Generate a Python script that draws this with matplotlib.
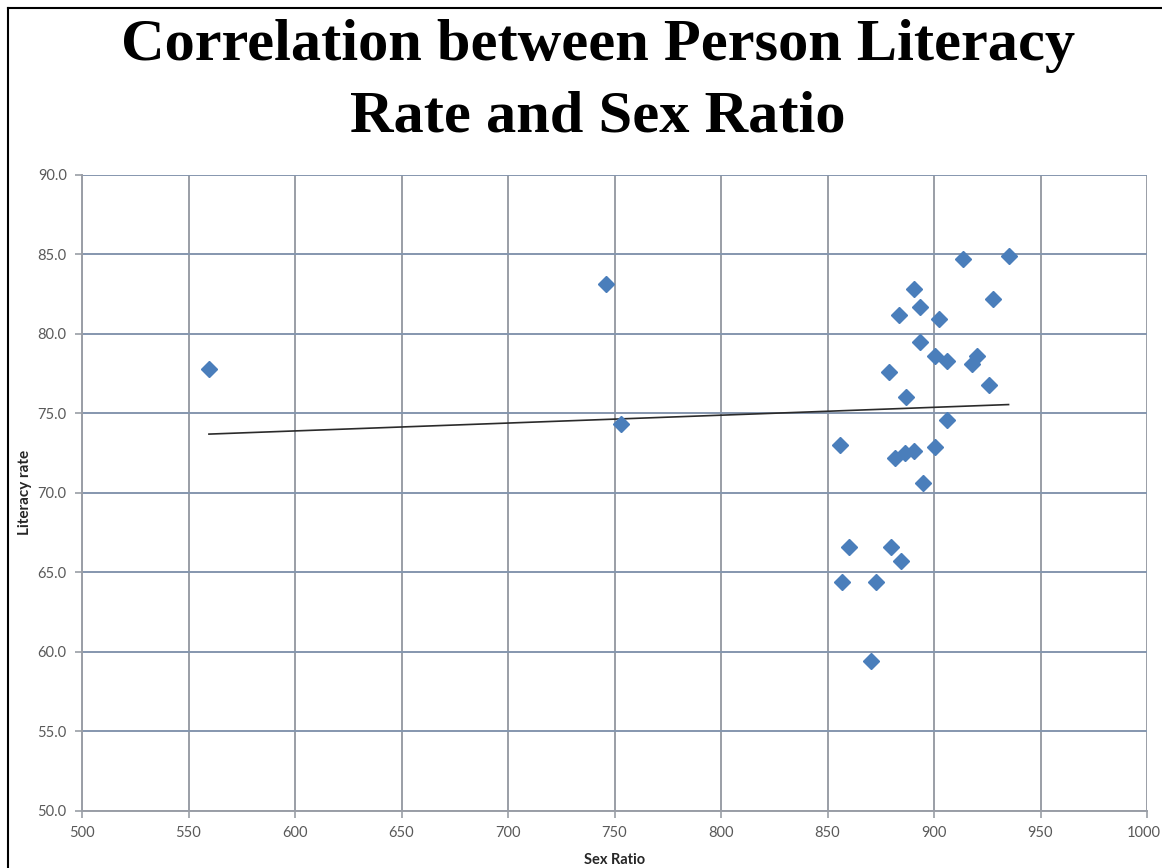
import numpy as np
import matplotlib
matplotlib.use("Agg")
import matplotlib.pyplot as plt
from matplotlib.lines import Line2D
from matplotlib.transforms import ScaledTranslation

# Data
sex_ratio = [559.6, 746.0, 753.0, 855.7, 913.8, 935.0, 890.8, 927.9, 893.6, 883.4,
             902.5, 893.6, 900.5, 906.0, 920.2, 917.8, 925.7, 878.7, 887.0, 906.0,
             900.5, 881.8, 886.6, 890.7, 894.8, 860.0, 879.8, 884.7, 856.8, 873.0,
             870.2]
literacy = [77.8, 83.1, 74.3, 73.0, 84.7, 84.9, 82.8, 82.2, 81.7, 81.2,
            80.9, 79.5, 78.6, 78.3, 78.6, 78.1, 76.8, 77.6, 76.0, 74.6,
            72.9, 72.2, 72.5, 72.6, 70.6, 66.6, 66.6, 65.7, 64.4, 64.4,
            59.4]
x_ticks = [500, 550, 600, 650, 700, 750, 800, 850, 900, 950, 1000]
y_ticks = [50.0, 55.0, 60.0, 65.0, 70.0, 75.0, 80.0, 85.0, 90.0]

title = "Correlation between Person Literacy\nRate and Sex Ratio"
x_label = "Sex Ratio"
y_label = "Literacy rate"

W, H = 1162, 868
fig = plt.figure(figsize=(W / 100, H / 100), dpi=100)
fig.patch.set_facecolor("white")

ax = fig.add_axes([82 / W, 1 - 811 / H, (1147 - 82) / W, (811 - 174.7) / H])
ax.set_xlim(500, 1000)
ax.set_ylim(50, 90)
ax.set_xticks(x_ticks)
ax.set_yticks(y_ticks)
ax.set_xticklabels([str(t) for t in x_ticks])
ax.set_yticklabels([f"{t:.1f}" for t in y_ticks])

# grid
for xv in x_ticks:
    ax.axvline(xv, color="#9a9ea6", lw=1.4, zorder=0)
for yv in y_ticks:
    ax.axhline(yv, color="#8596ae", lw=1.4, zorder=0)

for s in ["top", "right"]:
    ax.spines[s].set_visible(False)
for s in ["left", "bottom"]:
    ax.spines[s].set_color("#9a9ea6")
    ax.spines[s].set_linewidth(1.4)

ax.tick_params(axis="both", direction="out", length=5, width=1.2, color="#9a9ea6",
               labelsize=10.5, labelcolor="#595959", pad=6)
for lab in ax.get_xticklabels() + ax.get_yticklabels():
    lab.set_family("Lato")
# keep the last x label inside the picture, as in the reference
last = ax.get_xticklabels()[-1]
last.set_transform(last.get_transform() + ScaledTranslation(-3 / 100, 0, fig.dpi_scale_trans))

# scatter
ax.plot(sex_ratio, literacy, linestyle="none", marker="D", ms=8,
        color="#4a7ebb", markeredgecolor="#4a7ebb", zorder=3)

# linear trend line
xs = np.array(sex_ratio)
ys = np.array(literacy)
slope, intercept = np.polyfit(xs, ys, 1)
xt = np.array([xs.min(), xs.max()])
ax.plot(xt, slope * xt + intercept, color="#2b2b2b", lw=1.2, zorder=2)

ax.set_xlabel(x_label, family="Lato", fontweight="bold", fontsize=10.5, color="#262626",
              labelpad=9)
ax.set_ylabel(y_label, family="Lato", fontweight="bold", fontsize=11, color="#262626",
              labelpad=4)

fig.text(598 / W, 1 - 132 / H, title, ha="center", va="baseline",
         family="Liberation Serif", fontweight="bold", fontsize=43.5, linespacing=1.43)

# partial frame (left and top edges)
fig.add_artist(Line2D([7.5 / W, 7.5 / W], [0, 1 - 8 / H], transform=fig.transFigure,
                      color="black", lw=1.5))
fig.add_artist(Line2D([7.5 / W, 1], [1 - 8 / H, 1 - 8 / H], transform=fig.transFigure,
                      color="black", lw=1.5))

fig.savefig("out.png", dpi=100)
